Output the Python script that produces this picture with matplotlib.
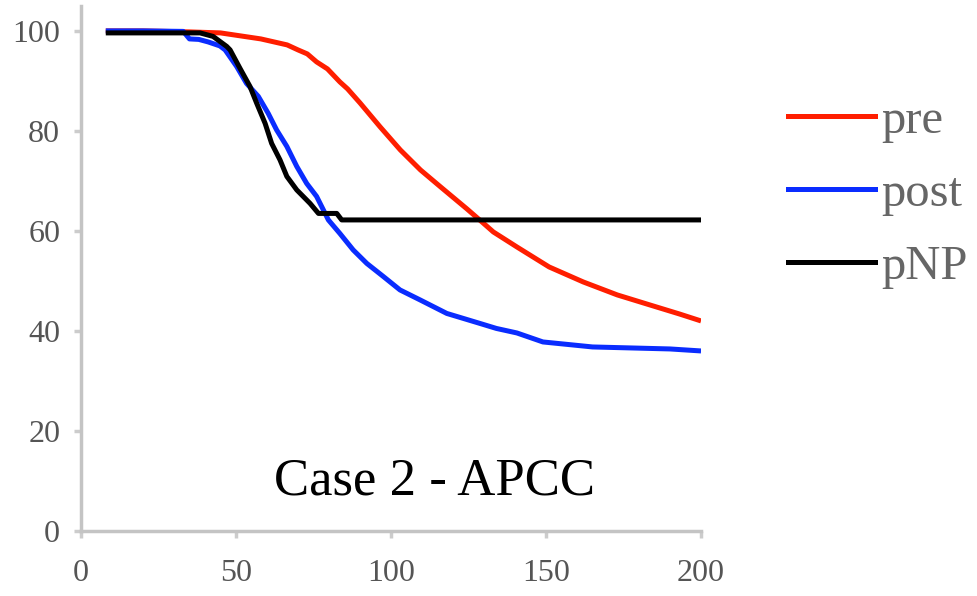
import numpy as np
import matplotlib.pyplot as plt
from matplotlib.lines import Line2D

# survival-like curves
pre_x = [8, 20, 35, 45, 58, 66.5, 70, 73, 76, 79.5, 83.5, 86, 90, 96.5, 103, 109.5, 116,
         124.5, 129.7, 133, 140.6, 151, 162, 173, 183.5, 193, 200]
pre_y = [100, 100, 99.8, 99.6, 98.4, 97.2, 96.2, 95.4, 93.8, 92.4, 89.8, 88.4, 85.6, 80.8, 76.2, 72.2, 68.8,
         64.4, 61.6, 59.8, 56.8, 52.8, 49.8, 47.2, 45.2, 43.4, 42]

post_x = [8, 20, 33, 35, 38, 41, 44.8, 46.5, 50.2, 53.4, 57.2, 60.4, 63.1, 66.4, 69.6, 72.8, 76,
          79.8, 83.5, 87.8, 92.2, 97.5, 102.9, 109.4, 118, 128.7, 134, 140.6, 149, 165, 190, 200]
post_y = [100, 100, 99.9, 98.4, 98.3, 97.8, 97.0, 96.2, 92.9, 89.5, 86.9, 83.5, 80.2, 76.9, 72.9, 69.5, 66.9,
          62.2, 59.5, 56.2, 53.5, 50.9, 48.2, 46.2, 43.5, 41.5, 40.5, 39.6, 37.8, 36.8, 36.4, 36]

pnp_x = [8, 25, 38.4, 42.6, 47, 48.1, 51.3, 54.5, 56.7, 59.4, 61.5, 64.2, 66.4, 69.6, 73.9, 76.6,
         82.5, 84.1, 200]
pnp_y = [99.6, 99.6, 99.6, 98.9, 96.9, 96.2, 92.5, 88.9, 85.5, 81.5, 77.5, 74.2, 70.9, 68.2, 65.5, 63.5,
         63.5, 62.2, 62.2]

labels = ['pre', 'post', 'pNP']
colors = ['#ff1e00', '#0a2cff', '#000000']

plt.rcParams['font.family'] = ['Liberation Serif', 'DejaVu Serif']

fig = plt.figure(figsize=(9.78, 5.96), dpi=100)
ax = fig.add_axes([0.0828, 0.1091, 0.634, 0.881])

ax.plot(pre_x, pre_y, color=colors[0], lw=3.6, solid_capstyle='butt')
ax.plot(post_x, post_y, color=colors[1], lw=3.6, solid_capstyle='butt')
ax.plot(pnp_x, pnp_y, color=colors[2], lw=3.6, solid_capstyle='butt')

ax.set_xlim(0, 200)
ax.set_ylim(0, 105)
ax.set_xticks([0, 50, 100, 150, 200])
ax.set_yticks([0, 20, 40, 60, 80, 100])

for s in ['top', 'right']:
    ax.spines[s].set_visible(False)
for s in ['left', 'bottom']:
    ax.spines[s].set_color('#c4c4c4')
    ax.spines[s].set_linewidth(2.5)

ax.tick_params(axis='both', direction='out', length=5, width=2.5, color='#cccccc',
               labelsize=23, labelcolor='#555555')
ax.tick_params(axis='y', pad=10)
ax.tick_params(axis='x', pad=15)

ax.text(114, 7.2, 'Case 2 - APCC', fontsize=38, ha='center', va='baseline', color='black')

handles = [Line2D([], [], color=c, lw=3.6) for c in colors]
fig.legend(handles, labels, loc='center left', bbox_to_anchor=(0.806, 0.675),
           frameon=False, fontsize=35, handlelength=1.79, handletextpad=0.12,
           labelspacing=0.6, borderpad=0, borderaxespad=0, labelcolor='#666666')

plt.savefig('out.png', dpi=100)
